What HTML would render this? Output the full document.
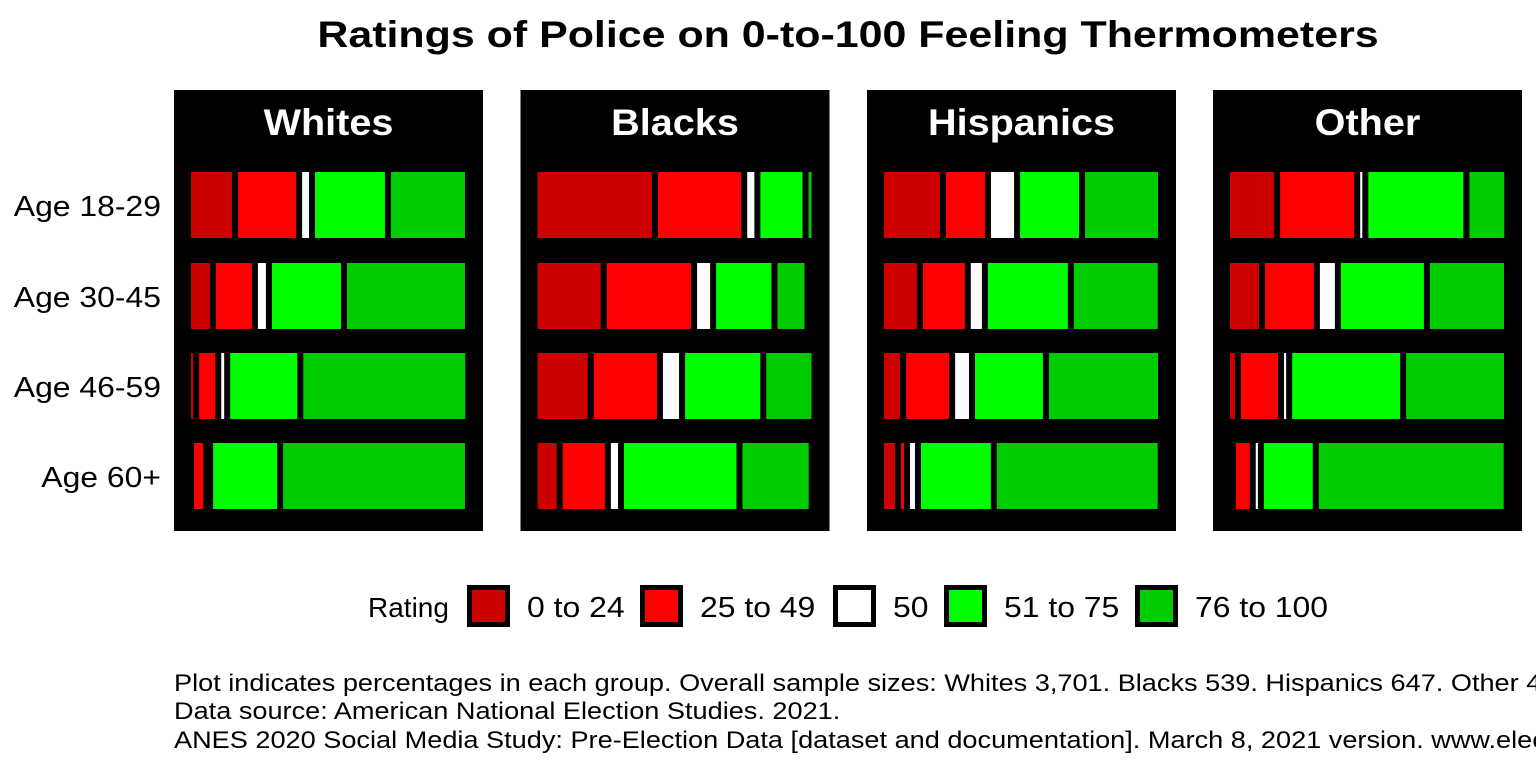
<!DOCTYPE html>
<html><head><meta charset="utf-8"><style>
html,body{margin:0;padding:0;background:#fff;}
svg{display:block;font-family:"Liberation Sans",Arial,sans-serif;}
</style></head><body>
<svg id="chart" width="1536" height="768" viewBox="0 0 1536 768">
<text x="848" y="47" text-anchor="middle" font-size="37" font-weight="bold" fill="#000" data-stretch="1.16">Ratings of Police on 0-to-100 Feeling Thermometers</text>
<g id="panels"></g>
<g id="ylabels"></g>
<g id="legend"></g>
<g font-size="24" fill="#000">
<text x="174" y="691" data-stretch="1.13">Plot indicates percentages in each group. Overall sample sizes: Whites 3,701. Blacks 539. Hispanics 647. Other 492.</text>
<text x="174" y="719" data-stretch="1.13">Data source: American National Election Studies. 2021.</text>
<text x="174" y="748" data-stretch="1.13">ANES 2020 Social Media Study: Pre-Election Data [dataset and documentation]. March 8, 2021 version. www.electionstudies.org</text>
</g>
</svg>
<script>
const groups = ["Whites","Blacks","Hispanics","Other"];
const ages = ["Age 18-29","Age 30-45","Age 46-59","Age 60+"];
const categories = ["0 to 24","25 to 49","50","51 to 75","76 to 100"];
const colors = ["#cc0000","#ff0000","#ffffff","#00ff00","#00cc00"];
const whites = [[16.8,22.9,4.6,27.1,28.6],[8.9,15.0,5.0,26.8,44.3],[2.9,7.9,3.2,26.1,60.0],[1.1,5.4,1.4,25.0,67.1]];
const blacks = [[43.0,31.9,4.7,17.2,3.2],[24.7,32.3,6.8,21.9,11.8],[20.1,24.7,7.9,29.0,18.3],[9.0,17.2,4.7,42.3,25.8]];
const hispanics = [[22.1,16.1,10.4,23.2,28.2],[13.9,17.1,6.1,30.7,32.1],[7.9,17.5,7.1,26.4,41.1],[6.1,3.2,3.9,27.1,59.6]];
const other = [[17.9,28.6,2.9,36.1,14.6],[12.5,19.6,7.5,31.8,28.6],[3.9,15.4,2.9,40.7,37.1],[2.1,7.1,2.9,19.6,68.2]];
const allData = [whites, blacks, hispanics, other];

const NS = "http://www.w3.org/2000/svg";
function mk(tag, attrs, parent){const e=document.createElementNS(NS,tag);for(const k in attrs)e.setAttribute(k,attrs[k]);parent.appendChild(e);return e;}
const panelX = [174, 520.5, 867, 1213];
const panelW = 309;
function xScale(p, v){ return panelX[p] + 14 + v * 2.8; }
const rowTop = [169, 260, 350, 440];
const rowH = 72;
function yScale(r){ return rowTop[r]; }

const panels = document.getElementById('panels');
groups.forEach((g, p) => {
  const gp = mk('g', {}, panels);
  
  
  const bg = mk('rect', {x: panelX[p], y: 90, width: panelW, height: 441, fill: '#000'}, gp);
  
  
  const t = mk('text', {x: panelX[p] + panelW/2, y: 135, 'text-anchor': 'middle', 'font-size': 37, 'font-weight': 'bold', fill: '#fff', 'data-stretch': '1.07'}, gp);
  t.textContent = g;
  
  
  allData[p].forEach((row, r) => {
    let cum = 0;
    row.forEach((v, c) => {
      const x0 = xScale(p, cum), x1 = xScale(p, cum + v);
      cum += v;
      const w = (x1 - x0) - 6;
      if (w <= 0) return;
      const rect = mk('rect', {x: x0 + 3, y: yScale(r) + 3, width: w, height: rowH - 6, fill: colors[c]}, gp);
      
      
    });
  });
});
const yl = document.getElementById('ylabels');
ages.forEach((a, r) => {
  const t = mk('text', {x: 161, y: yScale(r) + rowH/2 + 11, 'text-anchor': 'end', 'font-size': 29, fill: '#000', 'data-stretch': '1.1'}, yl);
  t.textContent = a;
  
  
});
const lg = document.getElementById('legend');
const lt = mk('text', {x: 368, y: 617, 'font-size': 28, fill: '#000', 'data-stretch': '1.0'}, lg);
lt.textContent = 'Rating';


const keyX = [467, 640, 833, 944, 1135];
categories.forEach((c, i) => {
  const k = mk('rect', {x: keyX[i] + 2.5, y: 587.5, width: 38, height: 37, fill: colors[i], stroke: '#000', 'stroke-width': 5}, lg);
  
  
  const t = mk('text', {x: keyX[i] + 60, y: 617, 'font-size': 29, fill: '#000', 'data-stretch': '1.1'}, lg);
  t.textContent = c;
  
  
});
document.querySelectorAll('text[data-stretch]').forEach(t => {
  const s = parseFloat(t.getAttribute('data-stretch'));
  if (s !== 1) {
    t.setAttribute('textLength', (t.getComputedTextLength() * s).toFixed(1));
    t.setAttribute('lengthAdjust', 'spacingAndGlyphs');
  }
});
</script>
</body></html>
